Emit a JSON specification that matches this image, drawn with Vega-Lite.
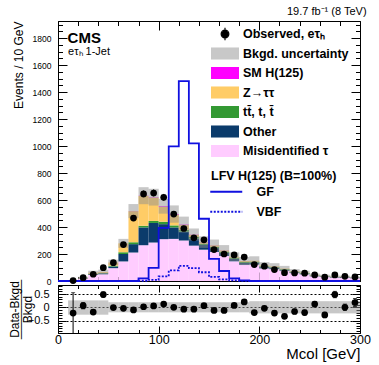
{
  "$schema": "https://vega.github.io/schema/vega-lite/v6.json",
  "padding": {"left": 7, "top": 5, "right": 5, "bottom": 0},
  "datasets": {
    "bins": [
      {"lo":0,"hi":10,"c":5,"misid":0,"other":0,"tt":0,"ztt":0,"smh":0,"GF":0,"VBF":0},
      {"lo":10,"hi":20,"c":15,"misid":3,"other":0.5,"tt":0.2,"ztt":0.3,"smh":0,"bandLo":2.8,"bandHi":5.2,"GF":0,"VBF":0,"data":3,"dlo":1.3,"dhi":4.7,"ratio":-0.22,"rlo":-1.2,"rhi":0.55,"rbLo":-0.28,"rbHi":0.26},
      {"lo":20,"hi":30,"c":25,"misid":18,"other":2,"tt":1,"ztt":3,"smh":0,"bandLo":16.8,"bandHi":31.2,"GF":0,"VBF":0,"data":25,"dlo":20,"dhi":30,"ratio":0.06,"rlo":-0.06,"rhi":0.18,"rbLo":-0.28,"rbHi":0.26},
      {"lo":30,"hi":40,"c":35,"misid":45,"other":5,"tt":3,"ztt":8,"smh":0,"bandLo":45.8,"bandHi":76.3,"GF":0,"VBF":0,"data":50,"dlo":43,"dhi":57,"ratio":-0.18,"rlo":-0.26,"rhi":-0.1,"rbLo":-0.28,"rbHi":0.26},
      {"lo":40,"hi":50,"c":45,"misid":50,"other":7,"tt":3,"ztt":7,"smh":0,"bandLo":50,"bandHi":84,"GF":0,"VBF":0,"data":99,"dlo":89,"dhi":109,"ratio":0.48,"rlo":0.38,"rhi":0.58,"rbLo":-0.28,"rbHi":0.26},
      {"lo":50,"hi":60,"c":55,"misid":95,"other":12,"tt":6,"ztt":24,"smh":0,"bandLo":116,"bandHi":158,"GF":0,"VBF":0,"data":136,"dlo":124,"dhi":148,"ratio":-0.01,"rlo":-0.07,"rhi":0.05,"rbLo":-0.19,"rbHi":0.19},
      {"lo":60,"hi":70,"c":65,"misid":145,"other":55,"tt":13,"ztt":66,"smh":0,"bandLo":246,"bandHi":312,"GF":0,"VBF":0,"data":270,"dlo":254,"dhi":286,"ratio":-0.04,"rlo":-0.09,"rhi":0.01,"rbLo":-0.19,"rbHi":0.19},
      {"lo":70,"hi":80,"c":75,"misid":211,"other":62,"tt":14,"ztt":230,"smh":1,"bandLo":466,"bandHi":570,"GF":0,"VBF":0,"data":466,"dlo":444,"dhi":488,"ratio":-0.1,"rlo":-0.14,"rhi":-0.06,"rbLo":-0.19,"rbHi":0.19},
      {"lo":80,"hi":90,"c":85,"misid":265,"other":132,"tt":12,"ztt":221,"smh":2,"bandLo":569,"bandHi":695,"GF":20,"VBF":2,"data":645,"dlo":620,"dhi":670,"ratio":0.02,"rlo":-0.02,"rhi":0.06,"rbLo":-0.19,"rbHi":0.19},
      {"lo":90,"hi":100,"c":95,"misid":285,"other":145,"tt":15,"ztt":173,"smh":3,"bandLo":559,"bandHi":683,"GF":97,"VBF":8,"data":652,"dlo":626,"dhi":678,"ratio":0.05,"rlo":0.01,"rhi":0.09,"rbLo":-0.19,"rbHi":0.19},
      {"lo":100,"hi":110,"c":105,"misid":310,"other":111,"tt":18,"ztt":110,"smh":5,"bandLo":499,"bandHi":609,"GF":394,"VBF":35,"data":620,"dlo":595,"dhi":645,"ratio":0.12,"rlo":0.08,"rhi":0.16,"rbLo":-0.19,"rbHi":0.19},
      {"lo":110,"hi":120,"c":115,"misid":312,"other":85,"tt":15,"ztt":79,"smh":5,"bandLo":432,"bandHi":560,"GF":997,"VBF":78,"data":496,"dlo":474,"dhi":518,"ratio":0.0,"rlo":-0.04,"rhi":0.04,"rbLo":-0.19,"rbHi":0.19},
      {"lo":120,"hi":130,"c":125,"misid":300,"other":65,"tt":14,"ztt":35,"smh":4,"bandLo":359,"bandHi":477,"GF":1480,"VBF":112,"data":389,"dlo":369,"dhi":409,"ratio":-0.07,"rlo":-0.12,"rhi":-0.02,"rbLo":-0.19,"rbHi":0.19},
      {"lo":130,"hi":140,"c":135,"misid":262,"other":52,"tt":12,"ztt":16,"smh":2,"bandLo":299,"bandHi":389,"GF":1019,"VBF":95,"data":320,"dlo":302,"dhi":338,"ratio":-0.07,"rlo":-0.12,"rhi":-0.02,"rbLo":-0.19,"rbHi":0.19},
      {"lo":140,"hi":150,"c":145,"misid":232,"other":35,"tt":9,"ztt":11,"smh":1,"bandLo":245,"bandHi":331,"GF":461,"VBF":65,"data":305,"dlo":288,"dhi":322,"ratio":0.06,"rlo":0.0,"rhi":0.12,"rbLo":-0.19,"rbHi":0.19},
      {"lo":150,"hi":160,"c":155,"misid":216,"other":28,"tt":9,"ztt":11,"smh":1,"bandLo":223,"bandHi":307,"GF":164,"VBF":30,"data":233,"dlo":218,"dhi":248,"ratio":-0.12,"rlo":-0.18,"rhi":-0.06,"rbLo":-0.19,"rbHi":0.19},
      {"lo":160,"hi":170,"c":165,"misid":186,"other":22,"tt":9,"ztt":9,"smh":1,"bandLo":188,"bandHi":266,"GF":74,"VBF":12,"data":200,"dlo":186,"dhi":214,"ratio":-0.12,"rlo":-0.18,"rhi":-0.06,"rbLo":-0.19,"rbHi":0.19},
      {"lo":170,"hi":180,"c":175,"misid":146,"other":18,"tt":8,"ztt":8,"smh":0,"bandLo":148,"bandHi":212,"GF":20,"VBF":4,"data":193,"dlo":179,"dhi":207,"ratio":0.07,"rlo":0.0,"rhi":0.14,"rbLo":-0.19,"rbHi":0.19},
      {"lo":180,"hi":190,"c":185,"misid":120,"other":14,"tt":7,"ztt":7,"smh":0,"bandLo":118,"bandHi":178,"GF":5,"VBF":1,"data":177,"dlo":164,"dhi":190,"ratio":0.2,"rlo":0.13,"rhi":0.27,"rbLo":-0.19,"rbHi":0.19},
      {"lo":190,"hi":200,"c":195,"misid":122,"other":14,"tt":7,"ztt":7,"smh":0,"bandLo":117,"bandHi":183,"GF":0,"VBF":0,"data":122,"dlo":111,"dhi":133,"ratio":-0.2,"rlo":-0.27,"rhi":-0.13,"rbLo":-0.23,"rbHi":0.23},
      {"lo":200,"hi":210,"c":205,"misid":94,"other":10,"tt":6,"ztt":5,"smh":0,"bandLo":90,"bandHi":140,"GF":0,"VBF":0,"data":110,"dlo":100,"dhi":120,"ratio":-0.04,"rlo":-0.12,"rhi":0.04,"rbLo":-0.23,"rbHi":0.23},
      {"lo":210,"hi":220,"c":215,"misid":89,"other":9,"tt":5,"ztt":5,"smh":0,"bandLo":84,"bandHi":132,"GF":0,"VBF":0,"data":85,"dlo":76,"dhi":94,"ratio":-0.22,"rlo":-0.3,"rhi":-0.14,"rbLo":-0.23,"rbHi":0.23},
      {"lo":220,"hi":230,"c":225,"misid":76,"other":7,"tt":5,"ztt":4,"smh":0,"bandLo":72,"bandHi":112,"GF":0,"VBF":0,"data":62,"dlo":54,"dhi":70,"ratio":-0.34,"rlo":-0.42,"rhi":-0.26,"rbLo":-0.23,"rbHi":0.23},
      {"lo":230,"hi":240,"c":235,"misid":59,"other":5,"tt":4,"ztt":4,"smh":0,"bandLo":56,"bandHi":88,"GF":0,"VBF":0,"data":60,"dlo":52,"dhi":68,"ratio":-0.16,"rlo":-0.25,"rhi":-0.07,"rbLo":-0.23,"rbHi":0.23},
      {"lo":240,"hi":250,"c":245,"misid":50,"other":5,"tt":4,"ztt":3,"smh":0,"bandLo":48,"bandHi":76,"GF":0,"VBF":0,"data":58,"dlo":50,"dhi":66,"ratio":-0.2,"rlo":-0.29,"rhi":-0.11,"rbLo":-0.23,"rbHi":0.23},
      {"lo":250,"hi":260,"c":255,"misid":35,"other":4,"tt":3,"ztt":3,"smh":0,"bandLo":35,"bandHi":55,"GF":0,"VBF":0,"data":45,"dlo":38,"dhi":52,"ratio":0.12,"rlo":0.02,"rhi":0.22,"rbLo":-0.23,"rbHi":0.23},
      {"lo":260,"hi":270,"c":265,"misid":30,"other":3,"tt":3,"ztt":2,"smh":0,"bandLo":29,"bandHi":47,"GF":0,"VBF":0,"data":28,"dlo":23,"dhi":33,"ratio":-0.29,"rlo":-0.39,"rhi":-0.19,"rbLo":-0.23,"rbHi":0.23},
      {"lo":270,"hi":280,"c":275,"misid":25,"other":3,"tt":2,"ztt":2,"smh":0,"bandLo":24,"bandHi":40,"GF":0,"VBF":0,"data":45,"dlo":38,"dhi":52,"ratio":0.48,"rlo":0.36,"rhi":0.6,"rbLo":-0.23,"rbHi":0.23},
      {"lo":280,"hi":290,"c":285,"misid":25,"other":3,"tt":2,"ztt":2,"smh":0,"bandLo":24,"bandHi":40,"GF":0,"VBF":0,"data":35,"dlo":29,"dhi":41,"ratio":0.0,"rlo":-0.12,"rhi":0.12,"rbLo":-0.23,"rbHi":0.23},
      {"lo":290,"hi":300,"c":295,"misid":21,"other":2,"tt":2,"ztt":1,"smh":0,"bandLo":20,"bandHi":32,"GF":0,"VBF":0,"data":30,"dlo":25,"dhi":35,"ratio":0.18,"rlo":0.03,"rhi":0.33,"rbLo":-0.23,"rbHi":0.23}
    ],
    "procs": [
      {"key":"misid","label":"Misidentified τ","rank":1},
      {"key":"other","label":"Other","rank":2},
      {"key":"tt","label":"tt̄, t, t̄","rank":3},
      {"key":"ztt","label":"Z→ττ","rank":4},
      {"key":"smh","label":"SM H(125)","rank":5}
    ]
  },
  "data": {"name": "bins"},
  "bounds": "flush",
  "spacing": 4,
  "vconcat": [
    {
      "width": 302,
      "height": 260,
      "title": {"text": "19.7 fb⁻¹ (8 TeV)", "anchor": "end", "fontSize": 11, "fontWeight": "normal", "offset": 4, "dx": 3},
      "layer": [
        {
          "transform": [
            {"fold": ["misid","other","tt","ztt","smh"], "as": ["key","events"]},
            {"lookup": "key", "from": {"data": {"name": "procs"}, "key": "key", "fields": ["label","rank"]}},
            {"stack": "events", "groupby": ["lo"], "sort": [{"field": "rank", "order": "ascending"}], "as": ["y0","y1"]}
          ],
          "mark": {"type": "rect"},
          "encoding": {
            "x": {"field": "lo", "type": "quantitative", "scale": {"domain": [0,300], "nice": false, "zero": false},
                  "axis": {"orient": "bottom", "values": [0,100,200,300], "tickSize": -9, "labels": false, "title": null}},
            "x2": {"field": "hi"},
            "y": {"field": "y0", "type": "quantitative", "scale": {"domain": [0,1926], "nice": false, "zero": false},
                  "axis": {"orient": "left", "values": [0,200,400,600,800,1000,1200,1400,1600,1800], "format": "d", "tickSize": -9, "labelPadding": 16, "labelFontSize": 8.5, "title": "Events / 10 GeV", "titleFontSize": 12, "titleAnchor": "end", "titlePadding": 7}},
            "y2": {"field": "y1"},
            "color": {"field": "label", "type": "nominal",
              "scale": {"domain": ["Observed, eτₕ","Bkgd. uncertainty","SM H(125)","Z→ττ","tt̄, t, t̄","Other","Misidentified τ"],
                        "range": ["#000000","#c8c8c8","#ff00ff","#ffcc66","#339933","#0b3b6b","#ffccff"]},
              "legend": {"title": null, "orient": "none", "legendX": 159, "legendY": 5,
                "symbolType": "M-2,-0.86H2V0.86H-2Z", "symbolSize": 196, "symbolStrokeWidth": 0,
                "labelFontSize": 12.5, "labelFontWeight": "bold", "labelOffset": 10, "rowPadding": 1.5, "labelLimit": 250,
                "encode": {"symbols": {"update": {
                  "shape": {"signal": "datum.value === 'Observed, eτₕ' ? 'M0,-0.9V0.9M-0.55,0A0.55,0.55 0 1,0 0.55,0A0.55,0.55 0 1,0 -0.55,0Z' : 'M-2,-0.86H2V0.86H-2Z'"},
                  "stroke": {"signal": "datum.value === 'Observed, eτₕ' ? '#000000' : 'transparent'"},
                  "strokeWidth": {"value": 1.2}
                }}}}}
          }
        },
        {
          "transform": [{"filter": "datum.bandLo != null"}],
          "mark": {"type": "rect", "fill": "#909090", "opacity": 0.5},
          "encoding": {
            "x": {"field": "lo", "type": "quantitative", "scale": {"domain": [0,300], "nice": false, "zero": false},
                  "axis": {"orient": "bottom", "values": [0,20,40,60,80,100,120,140,160,180,200,220,240,260,280,300], "tickSize": -4.5, "labels": false, "title": null}},
            "x2": {"field": "hi"},
            "y": {"field": "bandLo", "type": "quantitative", "scale": {"domain": [0,1926], "nice": false, "zero": false},
                  "axis": {"orient": "left", "values": [0,50,100,150,200,250,300,350,400,450,500,550,600,650,700,750,800,850,900,950,1000,1050,1100,1150,1200,1250,1300,1350,1400,1450,1500,1550,1600,1650,1700,1750,1800,1850,1900], "tickSize": -4.5, "labels": false, "title": null}},
            "y2": {"field": "bandHi"}
          }
        },
        {
          "transform": [
            {"fold": ["lo","hi"], "as": ["edge","xpos"]},
            {"fold": ["GF","VBF"], "as": ["sample","yval"]}
          ],
          "mark": {"type": "line", "color": "#1010e0", "strokeWidth": 1.8},
          "encoding": {
            "x": {"field": "xpos", "type": "quantitative", "scale": {"domain": [0,300], "nice": false, "zero": false},
                  "axis": {"orient": "top", "values": [0,100,200,300], "tickSize": -9, "labels": false, "title": null}},
            "y": {"field": "yval", "type": "quantitative", "scale": {"domain": [0,1926], "nice": false, "zero": false},
                  "axis": {"orient": "right", "values": [0,200,400,600,800,1000,1200,1400,1600,1800], "tickSize": -9, "labels": false, "title": null}},
            "strokeDash": {"field": "sample", "type": "nominal",
              "scale": {"domain": ["GF","VBF"], "range": [[1,0],[2,1.5]]},
              "legend": {"title": "LFV H(125) (B=100%)", "orient": "none", "legendX": 153, "legendY": 149,
                "titleFontSize": 12.5, "titleFontWeight": "bold", "titlePadding": 3,
                "symbolType": "M-4,0H4", "symbolSize": 64, "symbolStrokeWidth": 2, "symbolStrokeColor": "#1010e0",
                "symbolOffset": 9, "labelOffset": 24,
                "labelFontSize": 12.5, "labelFontWeight": "bold", "rowPadding": 7}},
            "order": [{"field": "xpos", "type": "quantitative"}, {"field": "edge", "type": "nominal"}]
          }
        },
        {
          "transform": [{"filter": "datum.data != null"}],
          "mark": {"type": "rule", "color": "#000000", "strokeWidth": 1},
          "encoding": {
            "x": {"field": "c", "type": "quantitative", "scale": {"domain": [0,300], "nice": false, "zero": false},
                  "axis": {"orient": "top", "values": [0,20,40,60,80,100,120,140,160,180,200,220,240,260,280,300], "tickSize": -4.5, "labels": false, "title": null}},
            "y": {"field": "dlo", "type": "quantitative", "scale": {"domain": [0,1926], "nice": false, "zero": false},
                  "axis": {"orient": "right", "values": [0,50,100,150,200,250,300,350,400,450,500,550,600,650,700,750,800,850,900,950,1000,1050,1100,1150,1200,1250,1300,1350,1400,1450,1500,1550,1600,1650,1700,1750,1800,1850,1900], "tickSize": -4.5, "labels": false, "title": null}},
            "y2": {"field": "dhi"}
          }
        },
        {
          "transform": [{"filter": "datum.data != null"}],
          "mark": {"type": "point", "filled": true, "color": "#000000", "size": 45, "opacity": 1},
          "encoding": {
            "x": {"field": "c", "type": "quantitative", "scale": {"domain": [0,300], "nice": false, "zero": false}, "axis": null},
            "y": {"field": "data", "type": "quantitative", "scale": {"domain": [0,1926], "nice": false, "zero": false}, "axis": null}
          }
        },
        {
          "data": {"values": [{}]},
          "mark": {"type": "text", "text": "CMS", "fontWeight": "bold", "fontSize": 15, "align": "left", "baseline": "alphabetic"},
          "encoding": {
            "x": {"datum": 9.5, "type": "quantitative", "scale": {"domain": [0,300], "nice": false, "zero": false}, "axis": null},
            "y": {"datum": 1763, "type": "quantitative", "scale": {"domain": [0,1926], "nice": false, "zero": false}, "axis": null}
          }
        },
        {
          "data": {"values": [{}]},
          "mark": {"type": "text", "text": "eτₕ 1-Jet", "fontSize": 11, "align": "left", "baseline": "alphabetic"},
          "encoding": {
            "x": {"datum": 10, "type": "quantitative", "scale": {"domain": [0,300], "nice": false, "zero": false}, "axis": null},
            "y": {"datum": 1672, "type": "quantitative", "scale": {"domain": [0,1926], "nice": false, "zero": false}, "axis": null}
          }
        }
      ],
      "resolve": {"axis": {"x": "independent", "y": "independent"}}
    },
    {
      "width": 302,
      "height": 48,
      "layer": [
        {
          "transform": [{"filter": "datum.rbLo != null"}],
          "mark": {"type": "rect", "fill": "#909090", "opacity": 0.5},
          "encoding": {
            "x": {"field": "lo", "type": "quantitative", "scale": {"domain": [0,300], "nice": false, "zero": false},
                  "axis": {"orient": "bottom", "values": [0,100,200,300], "tickSize": -7, "labelPadding": 7, "labelFontSize": 12.5, "title": "Mcol [GeV]", "titleFontSize": 15, "titleAnchor": "end", "titlePadding": 1}},
            "x2": {"field": "hi"},
            "y": {"field": "rbLo", "type": "quantitative", "scale": {"domain": [-0.97,0.84], "nice": false, "zero": false},
                  "axis": {"orient": "left", "values": [-0.5,0,0.5], "format": "~g", "tickSize": -8, "labelPadding": 17, "labelFontSize": 11,
                           "grid": true, "gridDash": [2,2], "gridColor": "#000000", "gridOpacity": 1,
                           "title": ["Data-Bkgd","───────","Bkgd"], "titleFontSize": 12, "titleLineHeight": 6.5, "titlePadding": -7}},
            "y2": {"field": "rbHi"}
          }
        },
        {
          "transform": [{"filter": "datum.ratio != null"}],
          "mark": {"type": "rule", "color": "#000000", "strokeWidth": 1, "clip": true},
          "encoding": {
            "x": {"field": "c", "type": "quantitative", "scale": {"domain": [0,300], "nice": false, "zero": false},
                  "axis": {"orient": "bottom", "values": [0,20,40,60,80,100,120,140,160,180,200,220,240,260,280,300], "tickSize": -3.5, "labels": false, "title": null}},
            "y": {"field": "rlo", "type": "quantitative", "scale": {"domain": [-0.97,0.84], "nice": false, "zero": false},
                  "axis": {"orient": "left", "values": [-0.9,-0.8,-0.7,-0.6,-0.5,-0.4,-0.3,-0.2,-0.1,0,0.1,0.2,0.3,0.4,0.5,0.6,0.7,0.8], "tickSize": -4, "labels": false, "title": null}},
            "y2": {"field": "rhi"}
          }
        },
        {
          "transform": [{"filter": "datum.ratio != null"}, {"fold": ["rlo","rhi"], "as": ["capk","capv"]}],
          "mark": {"type": "tick", "orient": "horizontal", "color": "#000000", "size": 4, "thickness": 1, "clip": true},
          "encoding": {
            "x": {"field": "c", "type": "quantitative", "scale": {"domain": [0,300], "nice": false, "zero": false},
                  "axis": {"orient": "top", "values": [0,20,40,60,80,100,120,140,160,180,200,220,240,260,280,300], "tickSize": -3.5, "labels": false, "title": null}},
            "y": {"field": "capv", "type": "quantitative", "scale": {"domain": [-0.97,0.84], "nice": false, "zero": false},
                  "axis": {"orient": "right", "values": [-0.9,-0.8,-0.7,-0.6,-0.5,-0.4,-0.3,-0.2,-0.1,0,0.1,0.2,0.3,0.4,0.5,0.6,0.7,0.8], "tickSize": -4, "labels": false, "title": null}}
          }
        },
        {
          "transform": [{"filter": "datum.ratio != null"}],
          "mark": {"type": "point", "filled": true, "color": "#000000", "size": 45, "opacity": 1},
          "encoding": {
            "x": {"field": "c", "type": "quantitative", "scale": {"domain": [0,300], "nice": false, "zero": false},
                  "axis": {"orient": "top", "values": [0,100,200,300], "tickSize": -7, "labels": false, "title": null}},
            "y": {"field": "ratio", "type": "quantitative", "scale": {"domain": [-0.97,0.84], "nice": false, "zero": false},
                  "axis": {"orient": "right", "values": [-0.5,0,0.5], "tickSize": -8, "labels": false, "title": null}}
          }
        }
      ],
      "resolve": {"axis": {"x": "independent", "y": "independent"}}
    }
  ],
  "config": {
    "font": "Liberation Sans",
    "view": {"stroke": "#000000", "strokeWidth": 1},
    "axis": {"domain": false, "grid": false, "tickColor": "#000000", "tickWidth": 1, "labelColor": "#000000", "titleColor": "#000000", "titleFontWeight": "normal", "labelFlush": false, "labelOverlap": false, "labelBound": false},
    "legend": {"labelColor": "#000000", "titleColor": "#000000"},
    "title": {"color": "#000000"}
  }
}
